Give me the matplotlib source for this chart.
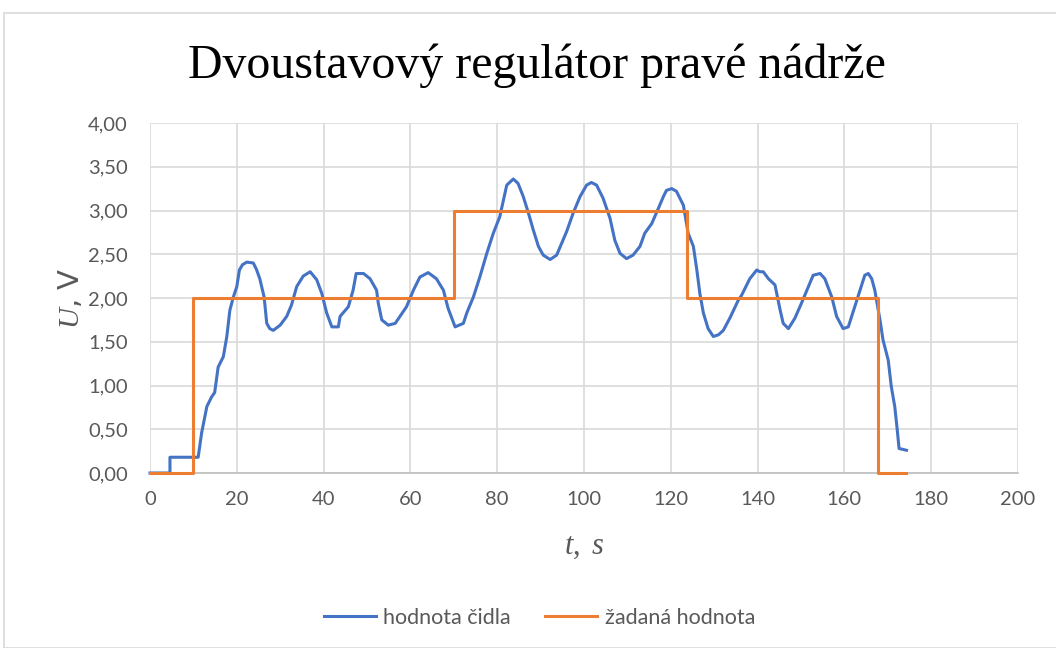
import matplotlib.pyplot as plt
from matplotlib.patches import Rectangle

plt.rcParams['mathtext.fontset'] = 'custom'
plt.rcParams['mathtext.it'] = 'Liberation Serif:italic'
plt.rcParams['mathtext.rm'] = 'Liberation Serif'

# sensor reading
t_sensor = [0, 4.6, 4.6, 8.0, 11.1, 11.9, 13.1, 14.2, 14.9, 15.7, 16.9, 17.7, 18.4,
            19.2, 20.0, 20.6, 21.3, 22.3, 23.8, 24.5, 25.3, 26.3, 26.9, 27.6, 28.4,
            30.0, 31.5, 32.6, 33.8, 35.3, 36.9, 38.4, 39.6, 40.7, 41.9, 43.4, 43.8,
            45.7, 46.8, 47.5, 49.2, 50.7, 52.2, 52.6, 53.4, 54.9, 56.5, 57.6, 59.1,
            60.7, 62.2, 64.1, 66.0, 67.6, 68.7, 70.3, 72.2, 73.0, 74.5, 76.0, 77.6,
            79.1, 80.6, 81.8, 82.2, 83.7, 84.8, 86.0, 87.2, 88.3, 89.5, 90.6, 92.2,
            93.7, 94.8, 96.0, 97.5, 99.1, 100.6, 101.7, 102.9, 104.4, 106.0, 107.1,
            108.3, 109.8, 111.3, 112.9, 114.0, 115.6, 117.1, 118.3, 119.0, 120.2,
            121.3, 122.9, 124.0, 125.2, 126.0, 126.7, 127.5, 128.6, 129.8, 131.0,
            132.1, 133.6, 135.6, 136.3, 138.2, 139.8, 140.5, 141.3, 142.5, 144.0,
            145.2, 145.9, 147.1, 148.6, 150.1, 151.7, 152.8, 154.4, 155.5, 157.1,
            158.2, 159.7, 160.9, 162.0, 163.6, 164.7, 165.5, 166.3, 167.0, 168.2,
            168.9, 170.1, 170.8, 171.6, 172.1, 172.6, 174.3]
u_sensor = [0, 0, 0.18, 0.18, 0.18, 0.46, 0.76, 0.87, 0.92, 1.21, 1.33, 1.56, 1.86,
            2.01, 2.13, 2.32, 2.38, 2.41, 2.40, 2.33, 2.22, 2.01, 1.71, 1.65, 1.63,
            1.69, 1.79, 1.92, 2.13, 2.25, 2.30, 2.21, 2.05, 1.83, 1.67, 1.67, 1.79,
            1.90, 2.09, 2.28, 2.28, 2.22, 2.09, 1.94, 1.75, 1.69, 1.71, 1.79, 1.90,
            2.09, 2.24, 2.29, 2.22, 2.09, 1.88, 1.67, 1.71, 1.83, 2.01, 2.24, 2.51,
            2.74, 2.93, 3.20, 3.29, 3.36, 3.31, 3.16, 2.97, 2.78, 2.59, 2.49, 2.44,
            2.49, 2.62, 2.76, 2.97, 3.16, 3.29, 3.32, 3.29, 3.14, 2.91, 2.66,
            2.51, 2.45, 2.49, 2.59, 2.74, 2.85, 3.02, 3.16, 3.23, 3.25,
            3.22, 3.06, 2.74, 2.59, 2.32, 2.05, 1.83, 1.65, 1.56, 1.58,
            1.63, 1.77, 1.98, 2.03, 2.22, 2.32, 2.30, 2.30, 2.22, 2.15,
            1.86, 1.71, 1.65, 1.77, 1.94, 2.13, 2.26, 2.28, 2.22, 2.01,
            1.79, 1.65, 1.67, 1.84, 2.09, 2.26, 2.28, 2.22, 2.09, 1.75,
            1.52, 1.29, 0.99, 0.76, 0.53, 0.28, 0.26]

# set point
t_set = [0, 9.9, 9.9, 70.0, 70.0, 123.8, 123.8, 167.8, 167.8, 174.3]
u_set = [0, 0, 2, 2, 3, 3, 2, 2, 0, 0]

x_ticks = list(range(0, 201, 20))
y_ticks = [0, 0.5, 1.0, 1.5, 2.0, 2.5, 3.0, 3.5, 4.0]

fig = plt.figure(figsize=(10.56, 6.48), dpi=100)
fig.patches.append(Rectangle((4 / 1056, 0), 1.0, 1 - 13 / 648, transform=fig.transFigure,
                             fill=False, edgecolor='#D9D9D9', linewidth=1.2))

ax = fig.add_axes([150 / 1056, 175 / 648, 868 / 1056, 350 / 648])
ax.plot(t_sensor, u_sensor, color='#4472C4', linewidth=2.2, label='hodnota čidla',
        clip_on=False, zorder=3)
ax.plot(t_set, u_set, color='#ED7D31', linewidth=2.2, label='žadaná hodnota',
        clip_on=False, zorder=4)

ax.set_xlim(0, 200)
ax.set_ylim(0, 4)
ax.set_xticks(x_ticks)
ax.set_yticks(y_ticks)
ax.set_yticklabels([f'{v:.2f}'.replace('.', ',') for v in y_ticks])
ax.grid(True, color='#D9D9D9', linewidth=1.2)
ax.set_axisbelow(True)
for s in ['top', 'right', 'left']:
    ax.spines[s].set_visible(False)
ax.spines['bottom'].set_color('#BFBFBF')
ax.spines['bottom'].set_linewidth(1.2)
ax.tick_params(length=0, labelsize=14.5, labelcolor='#595959')
ax.tick_params(axis='y', pad=16)
ax.tick_params(axis='x', pad=13)
for lab in ax.get_xticklabels() + ax.get_yticklabels():
    lab.set_family('Lato')

ax.set_xlabel('$\\it{t},\\ \\it{s}$', fontsize=22, color='#595959', labelpad=17)
ax.set_ylabel('$\\it{U}$, V', fontsize=21, color='#595959', labelpad=2)

fig.text(0.508, 0.898, 'Dvoustavový regulátor pravé nádrže', ha='center', va='center',
         fontsize=34.5, family='Liberation Serif')

fig.legend(loc='center', bbox_to_anchor=(0.511, 0.047), ncol=2, frameon=False,
           prop={'family': 'Lato', 'size': 15.5}, labelcolor='#595959',
           handlelength=2.4, handletextpad=0.35, columnspacing=1.6)

fig.savefig('out.png', dpi=100)
